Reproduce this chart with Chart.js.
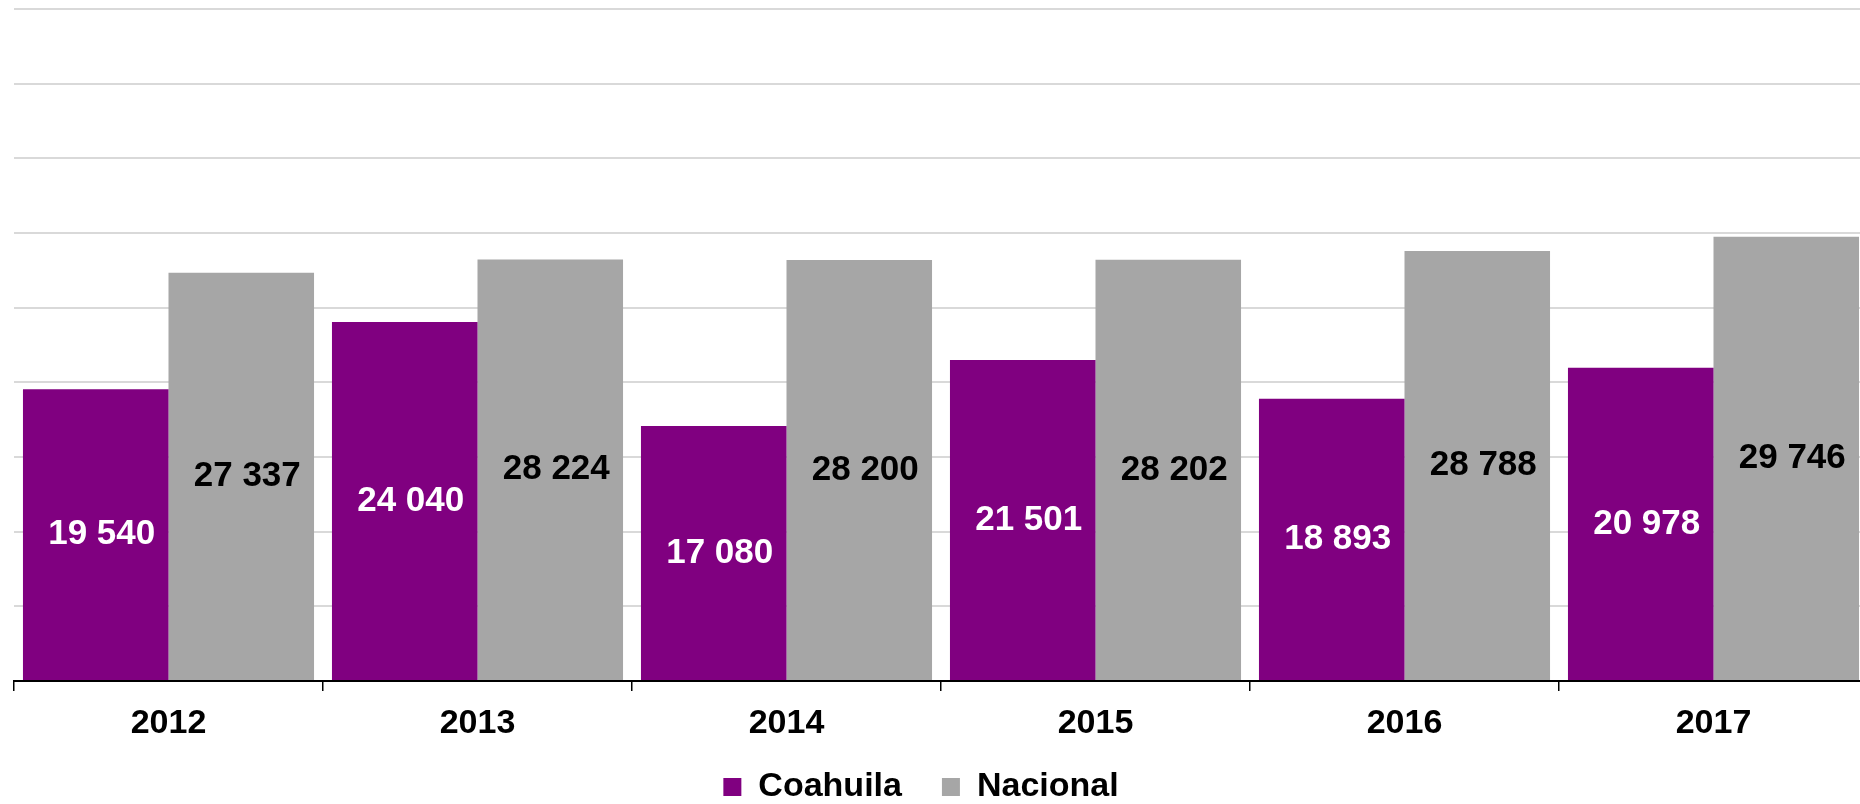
<!DOCTYPE html>
<html lang="es">
<head>
    <meta charset="UTF-8">
    <title>Coahuila vs Nacional</title>
    <script src="https://cdn.jsdelivr.net/npm/chart.js"></script>
    <style>
        html, body {
            margin: 0;
            padding: 0;
            background: #ffffff;
            overflow: hidden;
        }

        /* a little wider than the window: the last bar runs to the edge */
        .chart-box {
            width: 1868px;
            height: 804px;
            position: relative;
        }
    </style>
</head>
<body>
    <div class="chart-box">
        <canvas id="barCanvas"></canvas>
    </div>

    <script>
        // data
        const years = ['2012', '2013', '2014', '2015', '2016', '2017'];
        const coahuila = [19540, 24040, 17080, 21501, 18893, 20978];
        const nacional = [27337, 28224, 28200, 28202, 28788, 29746];

        const FONT = "'Liberation Sans', Arial, sans-serif";

        function formatNum(v) {
            return String(v).replace(/\B(?=(\d{3})+(?!\d))/g, ' ');
        }

        // values written in the middle of each bar
        const barLabels = {
            id: 'barLabels',
            afterDatasetsDraw(chart) {
                const ctx = chart.ctx;
                ctx.save();
                ctx.font = 'bold 35px ' + FONT;
                ctx.textAlign = 'center';
                ctx.textBaseline = 'middle';
                chart.data.datasets.forEach((ds, i) => {
                    const meta = chart.getDatasetMeta(i);
                    ctx.fillStyle = i === 0 ? '#ffffff' : '#000000';
                    meta.data.forEach((bar, j) => {
                        const y = (bar.y + bar.base) / 2;
                        ctx.fillText(formatNum(ds.data[j]), bar.x + 6, y);
                    });
                });
                ctx.restore();
            }
        };

        // legend sits tight against the bottom edge, a bit left of centre
        const legendPlace = {
            id: 'legendPlace',
            beforeInit(chart) {
                const fit = chart.legend.fit;
                chart.legend.fit = function () {
                    fit.call(this);
                    this.height = 63;
                };
            },
            afterLayout(chart) {
                const lg = chart.legend;
                lg.left -= 20;
                lg.right -= 20;
                lg.top -= 11;
                lg.height = 100;
                lg.bottom = lg.top + lg.height;
            }
        };

        const ctx = document.getElementById('barCanvas').getContext('2d');
        new Chart(ctx, {
            type: 'bar',
            data: {
                labels: years,
                datasets: [{
                    label: 'Coahuila',
                    data: coahuila,
                    backgroundColor: '#800080'
                }, {
                    label: 'Nacional',
                    data: nacional,
                    backgroundColor: '#a6a6a6'
                }]
            },
            options: {
                responsive: true,
                maintainAspectRatio: false,
                animation: false,
                layout: {
                    padding: { left: 14, right: 0, top: 9, bottom: 0 }
                },
                datasets: {
                    bar: {
                        categoryPercentage: 0.942,
                        barPercentage: 1.0
                    }
                },
                scales: {
                    x: {
                        grid: {
                            offset: true,
                            drawOnChartArea: false,
                            drawTicks: true,
                            tickLength: 10,
                            color: '#000000',
                            lineWidth: 1.5
                        },
                        border: { color: '#000000', width: 2 },
                        ticks: {
                            color: '#000000',
                            padding: 12,
                            font: { family: FONT, size: 34, weight: 'bold' }
                        },
                        afterFit(scale) {
                            scale.height = 60;
                        }
                    },
                    y: {
                        min: 0,
                        max: 45000,
                        ticks: { stepSize: 5000, display: false },
                        border: { display: false },
                        grid: {
                            drawTicks: false,
                            lineWidth: 2,
                            color: (c) => c.tick && c.tick.value === 0 ? 'rgba(0,0,0,0)' : '#d9d9d9'
                        }
                    }
                },
                plugins: {
                    tooltip: { enabled: false },
                    legend: {
                        position: 'bottom',
                        labels: {
                            boxWidth: 18,
                            boxHeight: 18,
                            padding: 40,
                            color: '#000000',
                            font: { family: FONT, size: 34, weight: 'bold' }
                        }
                    }
                }
            },
            plugins: [barLabels, legendPlace]
        });
    </script>
</body>
</html>
